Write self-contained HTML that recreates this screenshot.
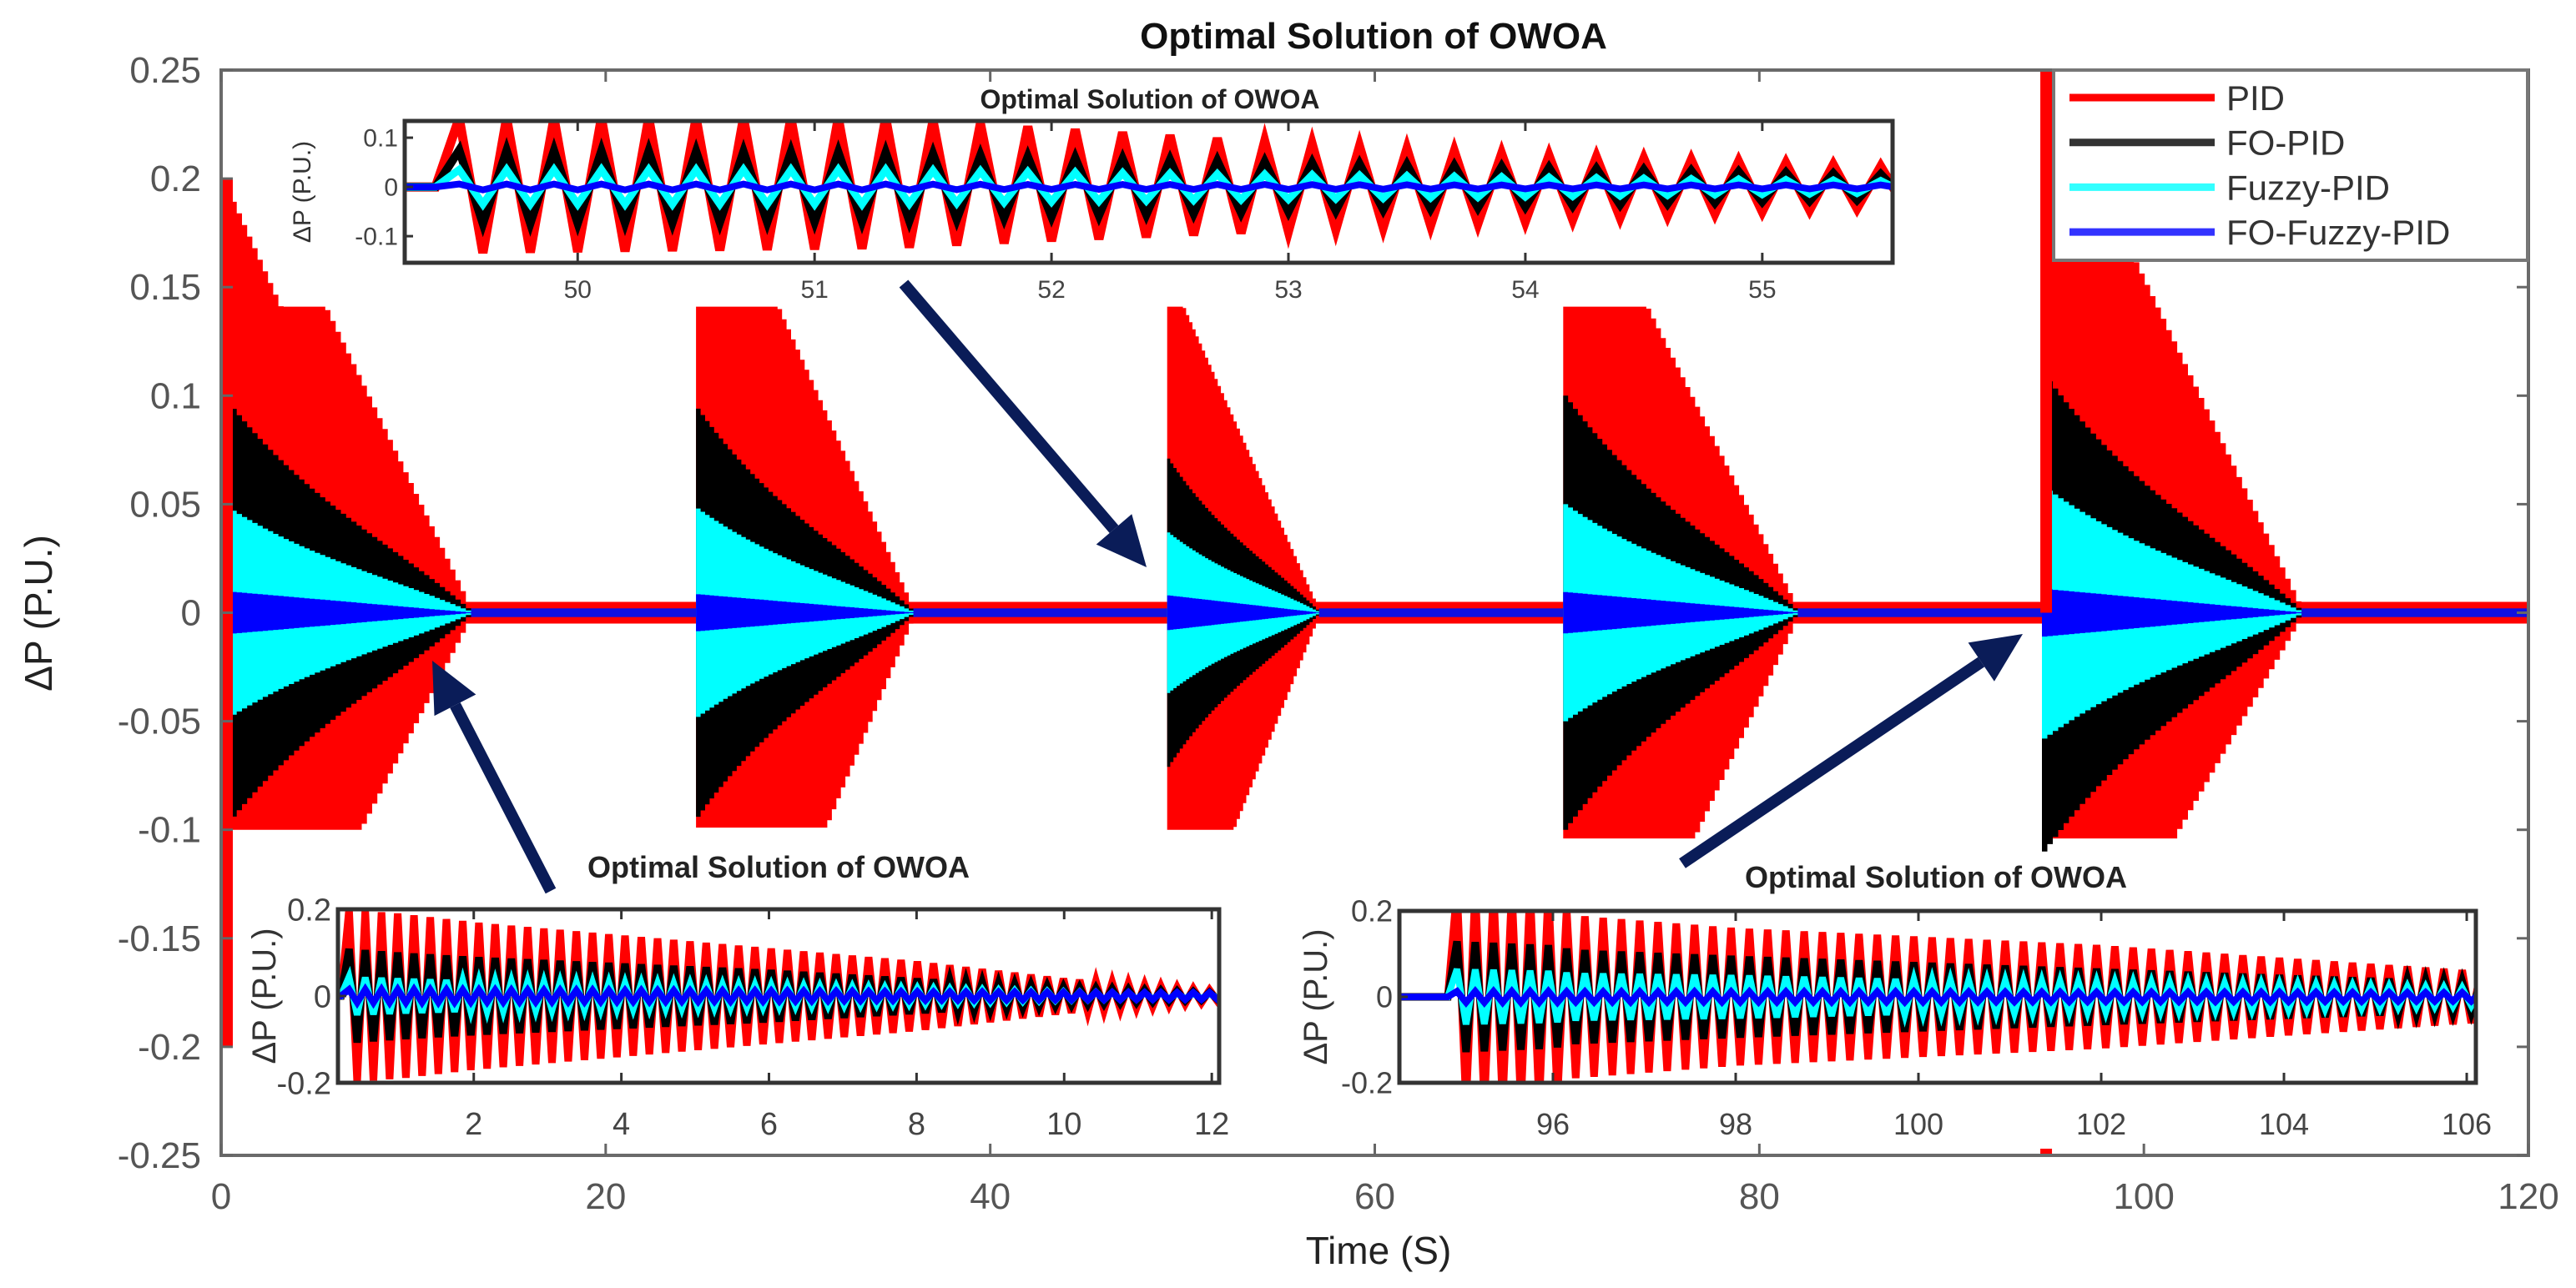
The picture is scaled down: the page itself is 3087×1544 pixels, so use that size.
<!DOCTYPE html>
<html><head><meta charset="utf-8"><style>
html,body{margin:0;padding:0;background:#fff;}
svg{display:block;font-family:"Liberation Sans",sans-serif;}
</style></head><body>
<svg id="chart" width="3087" height="1544" viewBox="0 0 3087 1544" xmlns="http://www.w3.org/2000/svg">
<rect x="0" y="0" width="3087" height="1544" fill="#fff"/>
<text x="1646" y="58" text-anchor="middle" font-size="44" font-weight="bold" fill="#111">Optimal Solution of OWOA</text>
<text transform="translate(62,735) rotate(-90)" text-anchor="middle" font-size="46" fill="#222">ΔP (P.U.)</text>
<text x="1652" y="1515" text-anchor="middle" font-size="46" fill="#222">Time (S)</text>
<g id="mainPlot"></g>
<g id="arrows"></g>
<g id="insets"></g>
<g id="legend"></g>
</svg>
<script>
// ---- main chart data ----
const xTicks = [0, 20, 40, 60, 80, 100, 120];
const yTicks = [0.25, 0.2, 0.15, 0.1, 0.05, 0, -0.05, -0.1, -0.15, -0.2, -0.25];
const yTickLabels = ["0.25","0.2","0.15","0.1","0.05","0","-0.05","-0.1","-0.15","-0.2","-0.25"];
const burstStart = [0, 24.7, 49.2, 69.8, 94.7];
const burstEnd = [13.0, 36.0, 57.1, 82.0, 108.2];
const redPeak = [0.2, 0.141, 0.141, 0.141, 0.25];
const redPlateau = [0.141, 0.141, 0.141, 0.141, 0.25];
const redPlateauStart = [0.23, 0, 0, 0, 0];
const redPlateauEnd = [0.41, 0.37, 0.1, 0.35, 0];
const redBottom = [-0.1, -0.099, -0.1, -0.104, -0.104];
const redBottomFlat = [0.55, 0.59, 0.43, 0.55, 0.5];
const blackAmp = [0.1, 0.094, 0.071, 0.1, 0.11];
const cyanAmp = [0.05, 0.048, 0.037, 0.05, 0.058];
const blueAmp = [0.01, 0.0085, 0.008, 0.0095, 0.011];
const legendNames = ["PID", "FO-PID", "Fuzzy-PID", "FO-Fuzzy-PID"];

// ---- inset data (envelope knots) ----
const in1Ticks = [50, 51, 52, 53, 54, 55];
const in1T = [49.4, 51.3, 52, 53, 54, 55, 55.6];
const in1RedUp = [0.14, 0.14, 0.12, 0.09, 0.065, 0.05, 0.04];
const in1RedDn = [0.135, 0.125, 0.11, 0.09, 0.07, 0.05, 0.04];
const in1Black = [0.075, 0.07, 0.06, 0.05, 0.04, 0.03, 0.025];
const in1Cyan = [0.035, 0.035, 0.03, 0.025, 0.02, 0.015, 0.012];
const in1Blue = [0.006, 0.006, 0.005, 0.005, 0.004, 0.004, 0.004];

const in2Ticks = [2, 4, 6, 8, 10, 12];
const in2T = [0.2, 1, 2, 4, 6, 8, 10, 12.1];
const in2Red = [0.2, 0.19, 0.17, 0.14, 0.11, 0.08, 0.04, 0.012];
const in2Black = [0.11, 0.1, 0.09, 0.075, 0.06, 0.04, 0.02, 0.008];
const in2Cyan = [0.045, 0.04, 0.035, 0.03, 0.025, 0.018, 0.01, 0.005];
const in2Blue = [0.015, 0.015, 0.014, 0.013, 0.012, 0.01, 0.009, 0.008];

const in3Ticks = [96, 98, 100, 102, 104, 106];
const in3T = [94.85, 96, 96.2, 98, 100, 102, 104, 106.1];
const in3Red = [0.25, 0.25, 0.19, 0.16, 0.14, 0.12, 0.09, 0.06];
const in3Black = [0.13, 0.12, 0.11, 0.095, 0.08, 0.065, 0.05, 0.035];
const in3Cyan = [0.065, 0.06, 0.055, 0.05, 0.04, 0.035, 0.03, 0.02];
const in3Blue = [0.013, 0.013, 0.012, 0.012, 0.012, 0.011, 0.011, 0.01];

const NS = "http://www.w3.org/2000/svg";
function mk(tag, attrs, parent) {
  const e = document.createElementNS(NS, tag);
  for (const k in attrs) e.setAttribute(k, attrs[k]);
  parent.appendChild(e);
  return e;
}
const L = 265, R = 3030, T = 84, B = 1385;
const X = t => L + (t - 0) * (R - L) / 120;
const Y = v => T + (0.25 - v) * (B - T) / 0.5;
const main = document.getElementById('mainPlot');

const defs = mk('defs', {}, document.getElementById('chart'));
const cp = mk('clipPath', {id: 'mainClip'}, defs);
mk('rect', {x: L, y: T, width: R - L, height: B - T}, cp);
const dataG = mk('g', {'clip-path': 'url(#mainClip)'}, main);



const ss = mk('rect', {x: L, y: Y(0.005), width: R - L, height: Y(-0.005) - Y(0.005), fill: '#ff0000'}, dataG);


const ssb = mk('rect', {x: L, y: Y(0.002), width: R - L, height: Y(-0.002) - Y(0.002), fill: '#1010e0'}, dataG);



function q(u, n) { return Math.floor(u * n) / n; }
function redTopF(i, u) {
  const ps = redPlateauStart[i], pe = redPlateauEnd[i];
  if (u < ps) return redPeak[i] + (redPlateau[i] - redPeak[i]) * (u / ps);
  if (u < pe) return redPlateau[i];
  return redPlateau[i] * (1 - (u - pe) / (1 - pe));
}
function redBotF(i, u) {
  const b = redBottomFlat[i];
  if (u < b) return redBottom[i];
  return redBottom[i] * (1 - (u - b) / (1 - b));
}
function band(i, topF, botF, color, name) {
  const s = burstStart[i], e = burstEnd[i];
  const n = 48;
  let top = [], bot = [];
  for (let k = 0; k <= n; k++) {
    const u = k / n;
    const uq = Math.min(q(u, 48), 1);
    const x1 = X(s + (e - s) * u);
    top.push([x1, Y(topF(uq))]);
    bot.push([x1, Y(botF(uq))]);
  }
  let pts = [];
  for (let k = 0; k < top.length; k++) {
    if (k > 0) pts.push([top[k][0], top[k - 1][1]]);
    pts.push(top[k]);
  }
  let pb = [];
  for (let k = 0; k < bot.length; k++) {
    if (k > 0) pb.push([bot[k][0], bot[k - 1][1]]);
    pb.push(bot[k]);
  }
  pts = pts.concat(pb.reverse());
  const p = mk('polygon', {points: pts.map(p => p[0].toFixed(1) + ',' + p[1].toFixed(1)).join(' '), fill: color}, dataG);
  
  
}
const shapeB = u => (1 - u) * (1 - 0.25 * u * (1 - u) * 2);
for (let i = 0; i < burstStart.length; i++) {
  band(i, u => redTopF(i, u), u => redBotF(i, u), '#ff0000', 'pid');
  band(i, u => blackAmp[i] * shapeB(u), u => -blackAmp[i] * shapeB(u), '#000000', 'fo-pid');
  band(i, u => cyanAmp[i] * shapeB(u), u => -cyanAmp[i] * shapeB(u), '#00ffff', 'fuzzy-pid');
  band(i, u => blueAmp[i] * (1 - u), u => -blueAmp[i] * (1 - u), '#0000ff', 'fo-fuzzy-pid');
}
const sp1 = mk('rect', {x: X(0), y: Y(0.2), width: 14, height: Y(-0.2) - Y(0.2), fill: '#ff0000'}, dataG);


const sp5 = mk('rect', {x: X(burstStart[4]) - 2, y: T, width: 14, height: Y(0) - T, fill: '#ff0000'}, dataG);


const dot = mk('rect', {x: X(burstStart[4]) - 2, y: B - 8, width: 14, height: 8, fill: '#ff0000'}, dataG);



const frame = mk('rect', {x: L, y: T, width: R - L, height: B - T, fill: 'none', stroke: '#6a6a6a', 'stroke-width': 4}, main);


xTicks.forEach((t, i) => {
  mk('line', {x1: X(t), y1: B, x2: X(t), y2: B - 14, stroke: '#666', 'stroke-width': 3}, main);
  mk('line', {x1: X(t), y1: T, x2: X(t), y2: T + 14, stroke: '#666', 'stroke-width': 3}, main);
  const tx = mk('text', {x: X(t), y: B + 64, 'text-anchor': 'middle', 'font-size': 44, fill: '#555'}, main);
  tx.textContent = String(t);
  
  
});
yTicks.forEach((v, i) => {
  mk('line', {x1: L, y1: Y(v), x2: L + 14, y2: Y(v), stroke: '#666', 'stroke-width': 3}, main);
  mk('line', {x1: R, y1: Y(v), x2: R - 14, y2: Y(v), stroke: '#666', 'stroke-width': 3}, main);
  const tx = mk('text', {x: L - 24, y: Y(v) + 15, 'text-anchor': 'end', 'font-size': 44, fill: '#555'}, main);
  tx.textContent = yTickLabels[i];
  
  
});

const arrows = document.getElementById('arrows');
function arrow(x1, y1, x2, y2, name) {
  const g = mk('g', {}, arrows);
  
  
  const dx = x2 - x1, dy = y2 - y1, len = Math.hypot(dx, dy);
  const ux = dx / len, uy = dy / len, hl = 60, hw = 28;
  const bx = x2 - ux * hl, by = y2 - uy * hl;
  mk('line', {x1: x1, y1: y1, x2: bx, y2: by, stroke: '#0a1c58', 'stroke-width': 14}, g);
  mk('polygon', {points: `${x2},${y2} ${bx - uy * hw},${by + ux * hw} ${bx + uy * hw},${by - ux * hw}`, fill: '#0a1c58'}, g);
}
arrow(1083, 340, 1374, 680, 'arrow-to-burst-50');
arrow(660, 1068, 518, 792, 'arrow-to-burst-0');
arrow(2016, 1035, 2424, 760, 'arrow-to-burst-95');

const insets = document.getElementById('insets');
function interp(ts, vs, t) {
  if (t <= ts[0]) return vs[0];
  for (let k = 1; k < ts.length; k++) if (t <= ts[k]) return vs[k - 1] + (vs[k] - vs[k - 1]) * (t - ts[k - 1]) / (ts[k] - ts[k - 1]);
  return vs[vs.length - 1];
}
function inset(cfg) {
  const g = mk('g', {}, insets);
  
  
  mk('rect', {x: cfg.x0, y: cfg.y0, width: cfg.x1 - cfg.x0, height: cfg.y1 - cfg.y0, fill: '#fff'}, g);
  const ix = t => cfg.x0 + (t - cfg.t0) * (cfg.x1 - cfg.x0) / (cfg.t1 - cfg.t0);
  const iy = v => cfg.y0 + (cfg.vmax - v) * (cfg.y1 - cfg.y0) / (cfg.vmax - cfg.vmin);
  const cid = cfg.name + '-clip';
  const c = mk('clipPath', {id: cid}, defs);
  mk('rect', {x: cfg.x0, y: cfg.y0, width: cfg.x1 - cfg.x0, height: cfg.y1 - cfg.y0}, c);
  const dg = mk('g', {'clip-path': 'url(#' + cid + ')'}, g);
  cfg.series.forEach(s => {
    let pts = [[ix(cfg.t0), iy(0)], [ix(cfg.ts[0]), iy(0)]];
    let t = cfg.ts[0], k = 0;
    while (t < cfg.t1 + cfg.period) {
      t += cfg.period / 2;
      const up = (k % 2 === 0);
      const a = up ? interp(cfg.ts, s.up, t) : -interp(cfg.ts, s.dn || s.up, t);
      pts.push([ix(t), iy(a)]);
      k++;
    }
    const pl = mk('polyline', {points: pts.map(p => p[0].toFixed(1) + ',' + p[1].toFixed(1)).join(' '), fill: 'none', stroke: s.color, 'stroke-width': s.w, 'stroke-linejoin': 'miter'}, dg);
    
    
  });
  const fr = mk('rect', {x: cfg.x0, y: cfg.y0, width: cfg.x1 - cfg.x0, height: cfg.y1 - cfg.y0, fill: 'none', stroke: '#333', 'stroke-width': 5}, g);
  
  
  cfg.ticks.forEach(t => {
    mk('line', {x1: ix(t), y1: cfg.y1, x2: ix(t), y2: cfg.y1 - 12, stroke: '#333', 'stroke-width': 3}, g);
    mk('line', {x1: ix(t), y1: cfg.y0, x2: ix(t), y2: cfg.y0 + 12, stroke: '#333', 'stroke-width': 3}, g);
    const tx = mk('text', {x: ix(t), y: cfg.y1 + cfg.tickDy, 'text-anchor': 'middle', 'font-size': cfg.fs, fill: '#444'}, g);
    tx.textContent = String(t);
    
    
  });
  cfg.yticks.forEach((v, i) => {
    mk('line', {x1: cfg.x0, y1: iy(v), x2: cfg.x0 + 10, y2: iy(v), stroke: '#333', 'stroke-width': 3}, g);
    const tx = mk('text', {x: cfg.x0 - 8, y: iy(v) + cfg.fs * 0.35, 'text-anchor': 'end', 'font-size': cfg.fs, fill: '#444'}, g);
    tx.textContent = cfg.ylabels[i];
    
    
  });
  const tt = mk('text', {x: cfg.tx, y: cfg.ty, 'text-anchor': 'middle', 'font-size': cfg.tfs, 'font-weight': 'bold', fill: '#222'}, g);
  tt.textContent = 'Optimal Solution of OWOA';
  
  
  const yl = mk('text', {transform: `translate(${cfg.ylx},${(cfg.y0 + cfg.y1) / 2}) rotate(-90)`, 'text-anchor': 'middle', 'font-size': cfg.ylfs, fill: '#333'}, g);
  yl.textContent = 'ΔP (P.U.)';
  
  
}
inset({name: 'inset-top', x0: 485, x1: 2268, y0: 145, y1: 315, t0: 49.27, t1: 55.55, vmin: -0.154, vmax: 0.134,
  ts: in1T, period: 0.2, ticks: in1Ticks, yticks: [0.1, 0, -0.1], ylabels: ['0.1', '0', '-0.1'], fs: 30, tickDy: 42,
  tx: 1378, ty: 130, tfs: 32, ylx: 372, ylfs: 30,
  series: [
    {name: 'pid', color: '#ff0000', w: 11, up: in1RedUp, dn: in1RedDn},
    {name: 'fo-pid', color: '#000', w: 10, up: in1Black},
    {name: 'fuzzy-pid', color: '#00ffff', w: 9, up: in1Cyan},
    {name: 'fo-fuzzy-pid', color: '#0000ff', w: 8, up: in1Blue}]});
inset({name: 'inset-bottom-left', x0: 405, x1: 1461, y0: 1090, y1: 1298, t0: 0.16, t1: 12.1, vmin: -0.2, vmax: 0.2,
  ts: in2T, period: 0.22, ticks: in2Ticks, yticks: [0.2, 0, -0.2], ylabels: ['0.2', '0', '-0.2'], fs: 38, tickDy: 62,
  tx: 933, ty: 1052, tfs: 36, ylx: 330, ylfs: 40,
  series: [
    {name: 'pid', color: '#ff0000', w: 9, up: in2Red},
    {name: 'fo-pid', color: '#000', w: 9, up: in2Black},
    {name: 'fuzzy-pid', color: '#00ffff', w: 8, up: in2Cyan},
    {name: 'fo-fuzzy-pid', color: '#0000ff', w: 8, up: in2Blue}]});
inset({name: 'inset-bottom-right', x0: 1677, x1: 2967, y0: 1092, y1: 1298, t0: 94.32, t1: 106.1, vmin: -0.2, vmax: 0.2,
  ts: in3T, period: 0.2, ticks: in3Ticks, yticks: [0.2, 0, -0.2], ylabels: ['0.2', '0', '-0.2'], fs: 36, tickDy: 62,
  tx: 2320, ty: 1064, tfs: 36, ylx: 1590, ylfs: 40,
  series: [
    {name: 'pid', color: '#ff0000', w: 9, up: in3Red},
    {name: 'fo-pid', color: '#000', w: 9, up: in3Black},
    {name: 'fuzzy-pid', color: '#00ffff', w: 8, up: in3Cyan},
    {name: 'fo-fuzzy-pid', color: '#0000ff', w: 8, up: in3Blue}]});

const lg = document.getElementById('legend');
const lbox = mk('rect', {x: 2461, y: 84, width: 568, height: 228, fill: '#fff', stroke: '#777', 'stroke-width': 4}, lg);


const lcolors = ['#ff0000', '#333333', '#33ffff', '#3333ff'];
legendNames.forEach((n, i) => {
  const y = 117 + i * 53.7;
  const g = mk('g', {}, lg);
  
  
  mk('line', {x1: 2480, y1: y, x2: 2654, y2: y, stroke: lcolors[i], 'stroke-width': 9}, g);
  const tx = mk('text', {x: 2668, y: y + 15, 'font-size': 42, fill: '#333'}, g);
  tx.textContent = n;
});
</script>
</body></html>
